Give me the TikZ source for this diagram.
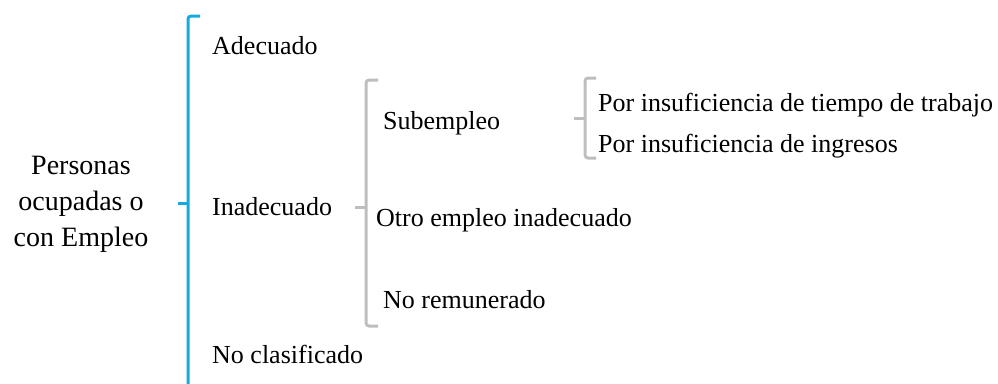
\documentclass[tikz,border=0pt]{standalone}
\usepackage{fontspec}
\setmainfont{Liberation Serif}
\usetikzlibrary{positioning}
\definecolor{brblue}{RGB}{20,170,222}
\definecolor{brgray}{RGB}{190,190,190}

\begin{document}
\begin{tikzpicture}[x=1pt, y=-1pt,
      item/.style={anchor=base west, inner sep=0pt, font=\rmfamily\fontsize{26}{31}\selectfont},
      root/.style={align=center, inner sep=0pt, font=\rmfamily\fontsize{28}{36}\selectfont},
      brace/.style={line width=3pt, rounded corners=3pt},
      tick/.style={line width=3pt}
    ]
      \useasboundingbox (0,0) rectangle (998,383);
      \node[root] (personas) at (81,204) {Personas\\ocupadas o\\con Empleo};
      % first level
      \node[item] (adecuado)   at (212,54)  {Adecuado};
      \node[item] (inadecuado) at (212,215) {Inadecuado};
      \node[item] (noclas)     at (212,363) {No clasificado};
      % second level
      \node[item] (subempleo)  at (383,129) {Subempleo};
      \node[item] (otro)       at (376,226) {Otro empleo inadecuado};
      \node[item] (noremun)    at (383,308) {No remunerado};
      % third level
      \node[item] (tiempo)     at (598,111) {Por insuficiencia de tiempo de trabajo};
      \node[item] (ingresos)   at (598,152) {Por insuficiencia de ingresos};
      % brackets
      \coordinate (b1top) at (188,16);
      \coordinate (b1bot) at (188,385);
      \coordinate (b1mid) at (188,203);
      \draw[brace, brblue] (200,16) -- (b1top) -- (b1bot);
      \draw[tick, brblue] (b1mid) -- ++(-10,0);
      \coordinate (b2top) at (366,80);
      \coordinate (b2bot) at (366,326);
      \coordinate (b2mid) at (366,207);
      \draw[brace, brgray] (378,80) -- (b2top) -- (b2bot) -- (378,326);
      \draw[tick, brgray] (b2mid) -- ++(-11,0);
      \coordinate (b3top) at (585,78);
      \coordinate (b3bot) at (585,158);
      \coordinate (b3mid) at (585,118);
      \draw[brace, brgray] (596,78) -- (b3top) -- (b3bot) -- (596,158);
      \draw[tick, brgray] (b3mid) -- ++(-11,0);
    \end{tikzpicture}
\end{document}
